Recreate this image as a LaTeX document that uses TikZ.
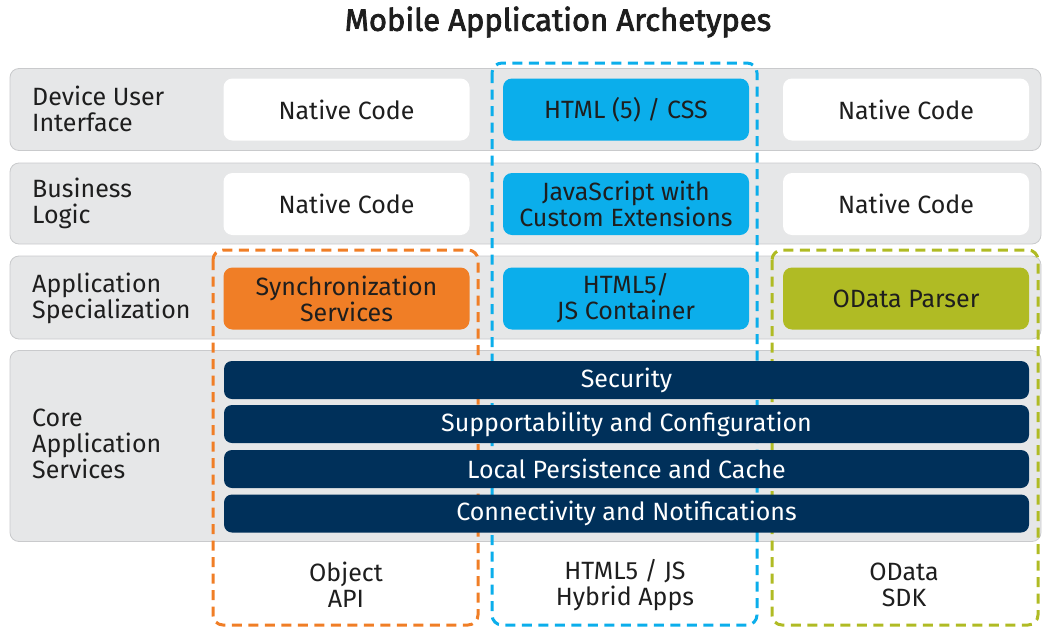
\documentclass[tikz,border=0pt]{standalone}
\usepackage{fontspec}
\setmainfont{Fira Sans}
\newfontfamily\titlefont[FakeBold=2.5]{Fira Sans}
\definecolor{bandgray}{HTML}{E6E7E8}
\definecolor{bandline}{HTML}{C9CACC}
\definecolor{hybridblue}{HTML}{0BAEEB}
\definecolor{syncorange}{HTML}{F07E26}
\definecolor{odatagreen}{HTML}{B0BB24}
\definecolor{corenavy}{HTML}{00305A}
\definecolor{inktext}{HTML}{1E1E1E}

\begin{document}
\begin{tikzpicture}[x=1pt,y=-1pt,
    font=\fontsize{25}{26}\selectfont, text=inktext,
    band/.style={draw=bandline,fill=bandgray,line width=0.8pt,rounded corners=9pt,
      minimum width=1031pt,inner sep=0pt},
    rowlabel/.style={anchor=west,align=left,inner sep=0pt},
    cell/.style={rounded corners=9pt,minimum width=246pt,minimum height=62pt,
      align=center,inner sep=0pt},
    nativecell/.style={cell,fill=white},
    hybridcell/.style={cell,fill=hybridblue},
    synccell/.style={cell,fill=syncorange},
    odatacell/.style={cell,fill=odatagreen},
    corebar/.style={fill=corenavy,text=white,rounded corners=8pt,
      minimum width=805pt,minimum height=38pt,inner sep=0pt},
    archetype/.style={line width=3pt,dash pattern=on 10pt off 6.5pt,rounded corners=10pt},
    footlabel/.style={align=center,inner sep=0pt}
  ]
  \useasboundingbox (0,0) rectangle (1044,627);

  \node[font=\fontsize{31}{34}\selectfont\titlefont] (title) at (558,22) {Mobile Application Archetypes};

  % layer bands
  \node[band,minimum height=82pt] (dui) at (525.5,109.5) {};
  \node[band,minimum height=81pt] (bl) at (525.5,203.5) {};
  \node[band,minimum height=83pt] (as) at (525.5,297.5) {};
  \node[band,minimum height=191pt] (cas) at (525.5,446) {};

  \node[rowlabel] (dui-label) at (32,109) {Device User\\Interface};
  \node[rowlabel] (bl-label) at (32,203) {Business\\Logic};
  \node[rowlabel] (as-label) at (32,298) {Application\\Specialization};
  \node[rowlabel] (cas-label) at (32,444) {Core\\Application\\Services};

  % archetype frames
  \draw[archetype,syncorange] (213,250) rectangle (478,625);
  \draw[archetype,hybridblue] (492,63) rectangle (757,625);
  \draw[archetype,odatagreen] (772,250) rectangle (1038,625);

  \node[nativecell] (dui-native1) at (346.5,109.5) {Native Code};
  \node[hybridcell] (dui-html) at (626,109.5) {HTML (5) / CSS};
  \node[nativecell] (dui-native2) at (906,109.5) {Native Code};

  \node[nativecell] (bl-native1) at (346.5,204) {Native Code};
  \node[hybridcell] (bl-js) at (626,204) {JavaScript with\\Custom Extensions};
  \node[nativecell] (bl-native2) at (906,204) {Native Code};

  \node[synccell] (as-sync) at (346.5,298.5) {Synchronization\\Services};
  \node[hybridcell] (as-container) at (626,298.5) {HTML5/\\JS Container};
  \node[odatacell] (as-parser) at (906,298.5) {OData Parser};

  \node[corebar] (security) at (626.5,380) {Security};
  \node[corebar] (support) at (626.5,424) {Supportability and Configuration};
  \node[corebar] (persist) at (626.5,469) {Local Persistence and Cache};
  \node[corebar] (connect) at (626.5,513.5) {Connectivity and Notifications};

  \node[footlabel] (object-api) at (346,585) {Object\\API};
  \node[footlabel] (hybrid-apps) at (625,585) {HTML5 / JS\\Hybrid Apps};
  \node[footlabel] (odata-sdk) at (904,585) {OData\\SDK};
\end{tikzpicture}
\end{document}
